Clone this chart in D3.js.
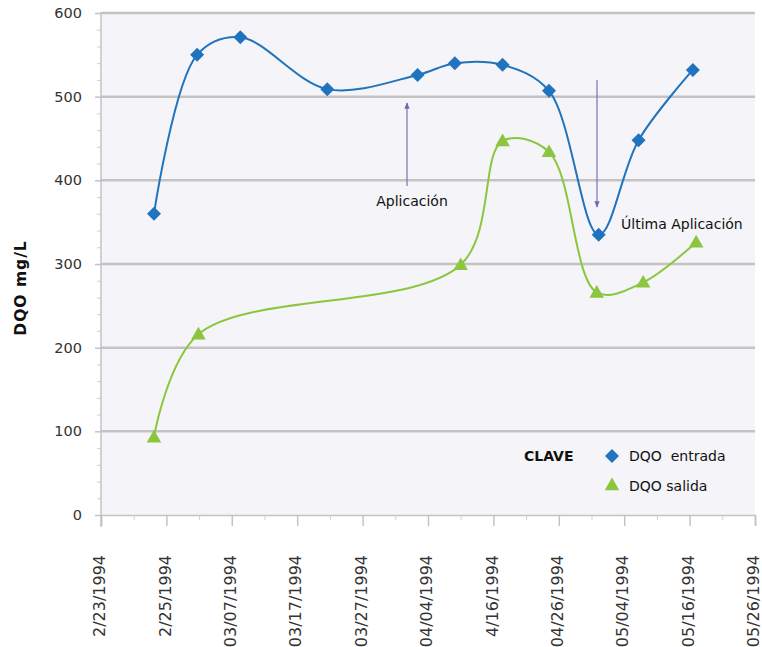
<!DOCTYPE html>
<html>
<head>
<meta charset="utf-8">
<script src="https://cdn.jsdelivr.net/npm/d3@7"></script>
<style>
  body{margin:0;background:#fff;}
  text{font-family:'DejaVu Sans',sans-serif;}
</style>
</head>
<body>
<div id="chart"></div>
<script>
let w=762;
let h=647;

// tick labels along the bottom (positions 0..10)
let xLabels=["2/23/1994","2/25/1994","03/07/1994","03/17/1994","03/27/1994","04/04/1994","4/16/1994","04/26/1994","05/04/1994","05/16/1994","05/26/1994"];
let yTicks=[0,100,200,300,400,500,600];

// DQO entrada (x in tick units)
let entradaX=[0.81,1.47,2.13,3.46,4.84,5.41,6.14,6.85,7.61,8.22,9.05];
let entradaY=[360,550,571,509,526,540,538,507,335,448,532];

// DQO salida
let salidaX=[0.81,1.49,5.50,6.14,6.85,7.58,8.29,9.10];
let salidaY=[93,216,299,447,434,266,278,326];

let svg=d3.select("#chart").append("svg")
  .attr("width",w)
  .attr("height",h);

let pLeft=101, pRight=755, pTop=13, pBottom=515;

let xScale=d3.scaleLinear().domain([0,10]).range([pLeft,pRight]);
let yScale=d3.scaleLinear().domain([0,600]).range([pBottom,pTop]);

// plot background
svg.append("rect")
  .attr("x",pLeft).attr("y",pTop)
  .attr("width",pRight-pLeft).attr("height",pBottom-pTop)
  .attr("fill","#f5f4f8");

// gridlines
svg.selectAll(".grid").data(yTicks.filter(d=>d>0)).enter()
  .append("line")
  .attr("class","grid")
  .attr("x1",pLeft).attr("x2",pRight)
  .attr("y1",d=>yScale(d)).attr("y2",d=>yScale(d))
  .attr("stroke","#c3c3c3")
  .attr("stroke-width",2.5);

// y axis
let yAxis=d3.axisLeft(yScale).tickValues(yTicks).tickSize(6).tickPadding(13);
let yAxisGroup=svg.append("g").attr("transform","translate("+pLeft+",0)").call(yAxis);
yAxisGroup.select(".domain").remove();
yAxisGroup.selectAll("line").attr("stroke","#c3c3c3").attr("stroke-width",1.5);
yAxisGroup.selectAll("text").style("font-size","14.5px").attr("fill","#333");

let yMinor=d3.axisLeft(yScale).tickValues(d3.range(20,600,20).filter(d=>d%100!=0)).tickSize(4).tickFormat("");
let yMinorGroup=svg.append("g").attr("transform","translate("+pLeft+",0)").call(yMinor);
yMinorGroup.select(".domain").remove();
yMinorGroup.selectAll("line").attr("stroke","#cfcfcf");

svg.append("line")
  .attr("x1",pLeft).attr("x2",pLeft).attr("y1",pTop-1).attr("y2",pBottom+12)
  .attr("stroke","#c3c3c3").attr("stroke-width",1.5);

// x axis
let xAxis=d3.axisBottom(xScale).tickValues(d3.range(0,11)).tickSize(11).tickFormat((d,i)=>xLabels[i]);
let xAxisGroup=svg.append("g").attr("transform","translate(0,"+pBottom+")").call(xAxis);
xAxisGroup.select(".domain").attr("stroke","#c3c3c3").attr("stroke-width",1.5);
xAxisGroup.selectAll("line").attr("stroke","#c3c3c3").attr("stroke-width",1.5);
xAxisGroup.selectAll("text")
  .style("font-size","16px").attr("fill","#333")
  .attr("text-anchor","end")
  .attr("transform","rotate(-90)")
  .attr("x",-40).attr("y",-2).attr("dy","0.35em");

let xMinor=d3.axisBottom(xScale).tickValues(d3.range(0.5,10,1)).tickSize(5).tickFormat("");
let xMinorGroup=svg.append("g").attr("transform","translate(0,"+pBottom+")").call(xMinor);
xMinorGroup.select(".domain").remove();
xMinorGroup.selectAll("line").attr("stroke","#cfcfcf");

// y title
svg.append("text")
  .text("DQO mg/L")
  .attr("transform","translate(26,288) rotate(-90)")
  .attr("text-anchor","middle")
  .style("font-size","15.5px")
  .style("font-weight","bold")
  .style("letter-spacing","1px")
  .attr("fill","#111");

let lineMaker=d3.line()
  .x(d=>xScale(d[0]))
  .y(d=>yScale(d[1]))
  .curve(d3.curveCatmullRom.alpha(0.5));

let entrada=entradaX.map((d,i)=>[d,entradaY[i]]);
let salida=salidaX.map((d,i)=>[d,salidaY[i]]);

let blue="#1f74bd";
let green="#8cc63f";
let purple="#8a78b8";

svg.append("path").datum(salida)
  .attr("d",lineMaker)
  .attr("fill","none").attr("stroke",green).attr("stroke-width",2);

svg.append("path").datum(entrada)
  .attr("d",lineMaker)
  .attr("fill","none").attr("stroke",blue).attr("stroke-width",2);

let diamond=d3.symbol().type(d3.symbolSquare).size(98);
let triangle=d3.symbol().type(d3.symbolTriangle).size(92);

svg.selectAll(".entrada").data(entrada).enter()
  .append("path")
  .attr("class","entrada")
  .attr("d",diamond)
  .attr("transform",d=>"translate("+xScale(d[0])+","+yScale(d[1])+") rotate(45)")
  .attr("fill",blue);

svg.selectAll(".salida").data(salida).enter()
  .append("path")
  .attr("class","salida")
  .attr("d",triangle)
  .attr("transform",d=>"translate("+xScale(d[0])+","+(yScale(d[1])+1)+")")
  .attr("fill",green);

// annotations
svg.append("defs").append("marker")
  .attr("id","arrow")
  .attr("viewBox","0 0 10 10")
  .attr("refX",9).attr("refY",5)
  .attr("markerWidth",5).attr("markerHeight",5)
  .attr("orient","auto")
  .append("path").attr("d","M0,1 L10,5 L0,9 Z").attr("fill","#7a62b0");

svg.append("line")
  .attr("x1",407).attr("x2",407).attr("y1",186).attr("y2",103)
  .attr("stroke",purple).attr("stroke-width",1.3)
  .attr("marker-end","url(#arrow)");
svg.append("text").text("Aplicación")
  .attr("x",412).attr("y",206).attr("text-anchor","middle")
  .style("font-size","14px").attr("fill","#111");

svg.append("line")
  .attr("x1",597).attr("x2",597).attr("y1",80).attr("y2",207)
  .attr("stroke",purple).attr("stroke-width",1.3)
  .attr("marker-end","url(#arrow)");
svg.append("text").text("Última Aplicación")
  .attr("x",621).attr("y",229)
  .style("font-size","14px").attr("fill","#111");

// legend
svg.append("text").text("CLAVE")
  .attr("x",524).attr("y",461)
  .style("font-size","14px").style("font-weight","bold").attr("fill","#111");
svg.append("path").attr("d",diamond)
  .attr("transform","translate(612,456) rotate(45)").attr("fill",blue);
svg.append("text").text("DQO  entrada").attr("xml:space","preserve")
  .attr("x",629).attr("y",461)
  .style("font-size","14px").attr("fill","#111");
svg.append("path").attr("d",triangle)
  .attr("transform","translate(612,486)").attr("fill",green);
svg.append("text").text("DQO salida")
  .attr("x",629).attr("y",491)
  .style("font-size","14px").attr("fill","#111");
</script>
</body>
</html>
